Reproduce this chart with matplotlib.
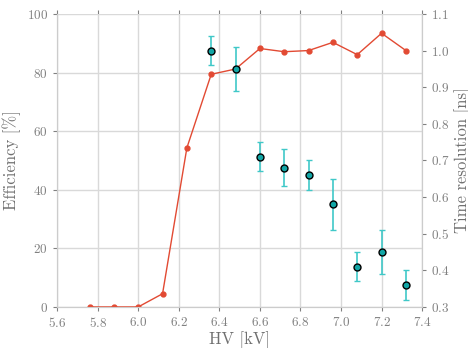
import matplotlib
matplotlib.use("Agg")
import matplotlib.pyplot as plt

plt.rcParams['font.family'] = ['cmr10', 'DejaVu Serif']
plt.rcParams['mathtext.fontset'] = 'cm'
plt.rcParams['axes.formatter.use_mathtext'] = True

# Efficiency scan
hv_eff = [5.76, 5.88, 6.00, 6.12, 6.24, 6.36, 6.48, 6.60, 6.72, 6.84, 6.96, 7.08, 7.20, 7.32]
efficiency = [0.0, 0.0, 0.0, 4.5, 54.3, 79.4, 81.2, 88.2, 87.1, 87.5, 90.3, 86.1, 93.4, 87.5]

# Time resolution scan
hv_time = [6.36, 6.48, 6.60, 6.72, 6.84, 6.96, 7.08, 7.20, 7.32]
time_res = [1.00, 0.95, 0.71, 0.68, 0.66, 0.58, 0.41, 0.45, 0.36]
time_err = [0.04, 0.06, 0.04, 0.05, 0.04, 0.07, 0.04, 0.06, 0.04]

grey = '#808080'
fig = plt.figure(figsize=(4.68, 3.48), dpi=100)
ax = fig.add_axes([0.122, 0.118, 0.780, 0.842])

ax.plot(hv_eff, efficiency, color='#e24a33', marker='o', markersize=3.5, linewidth=1, zorder=3)
ax.set_xlim(5.6, 7.4)
ax.set_ylim(0, 100)
ax.set_xticks([5.6, 5.8, 6.0, 6.2, 6.4, 6.6, 6.8, 7.0, 7.2, 7.4])
ax.set_yticks([0, 20, 40, 60, 80, 100])
ax.grid(True, color='#d9d9d9', linewidth=1)
ax.set_axisbelow(True)
ax.set_xlabel('HV [kV]', fontsize=12, color='#707070', labelpad=1)
ax.set_ylabel('Efficiency [%]', fontsize=12, color='#707070', labelpad=4)
ax.tick_params(colors=grey, labelsize=9.5, length=3, top=True, direction='out')
ax.spines['top'].set_visible(False)
for s in ['left', 'right', 'bottom']:
    ax.spines[s].set_color('#cccccc')

ax2 = ax.twinx()
ax2.errorbar(hv_time, time_res, yerr=time_err, fmt='o', color='#1aacac',
             markerfacecolor='#12a6a6', markeredgecolor='black', markeredgewidth=1,
             markersize=5, ecolor='#40c8c8', elinewidth=1.2, capsize=2.5, capthick=1.2, zorder=4)
ax2.set_ylim(0.3, 1.1)
ax2.set_yticks([0.3, 0.4, 0.5, 0.6, 0.7, 0.8, 0.9, 1.0, 1.1])
ax2.set_ylabel('Time resolution [ns]', fontsize=12, color='#707070', labelpad=3)
ax2.tick_params(colors=grey, labelsize=9.5, length=3, direction='out')
ax2.spines['top'].set_visible(False)
for s in ['left', 'right', 'bottom']:
    ax2.spines[s].set_color('#cccccc')

fig.savefig('out.png', dpi=100)
